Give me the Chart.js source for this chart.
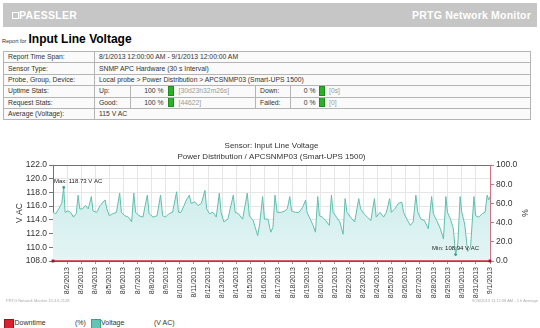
<!DOCTYPE html>
<html><head><meta charset="utf-8">
<script src="https://cdn.jsdelivr.net/npm/chart.js@4/dist/chart.umd.min.js"></script>
<style>
html,body{margin:0;padding:0;background:#fff;width:540px;height:328px;overflow:hidden;font-family:"Liberation Sans",Arial,sans-serif;color:#333;}
#hdr{position:absolute;left:3px;top:3px;width:534px;height:24px;background:#c6c6c6;}
#logoi{position:absolute;left:9px;top:9px;width:5px;height:5px;border:1px solid #fff;}
#logo{position:absolute;left:16px;top:0;line-height:25px;font-weight:bold;font-size:10.5px;color:#fff;letter-spacing:0.3px;}
#prtg{position:absolute;right:6px;top:0;line-height:25px;font-weight:bold;font-size:10.5px;color:#fff;letter-spacing:0.2px;}
#rtitle{position:absolute;left:2px;top:31px;line-height:14px;white-space:nowrap;}
#rtitle .rf{font-size:5.5px;color:#333;}
#rtitle b{font-size:12px;color:#000;margin-left:2px;}
#info{position:absolute;left:3px;top:51px;width:528px;border-collapse:collapse;table-layout:fixed;font-size:6.8px;color:#333;}
#info td{border:1px solid #b4b4b4;padding:0 0 0 4px;height:10.4px;line-height:10px;white-space:nowrap;overflow:hidden;background:#fafafa;}
.pc{display:inline-block;text-align:right;}
.gb{display:inline-block;width:4px;height:8px;background:#27b327;border:0.5px solid #1c8c1c;vertical-align:middle;margin-top:-1px;}
.br{color:#9a9a9a;}
#chartwrap{position:absolute;left:0;top:138px;width:540px;height:162px;}
.tiny{position:absolute;top:298px;font-size:4px;color:#aaa;white-space:nowrap;}
.lg{position:absolute;top:318px;font-size:7px;line-height:10px;white-space:nowrap;color:#333;}
.sq{position:absolute;top:318.5px;width:8px;height:8px;}
</style></head>
<body>
<div id="hdr"><div id="logoi"></div><div id="logo">PAESSLER</div><div id="prtg">PRTG Network Monitor</div></div>
<div id="rtitle"><span class="rf">Report for</span><b>Input Line Voltage</b></div>
<table id="info">
<colgroup><col style="width:91px"><col style="width:36px"><col style="width:125px"><col style="width:35px"><col></colgroup>
<tr><td>Report Time Span:</td><td colspan="4">8/1/2013 12:00:00 AM - 9/1/2013 12:00:00 AM</td></tr>
<tr><td>Sensor Type:</td><td colspan="4">SNMP APC Hardware (30 s Interval)</td></tr>
<tr><td>Probe, Group, Device:</td><td colspan="4">Local probe &gt; Power Distribution &gt; APCSNMP03 (Smart-UPS 1500)</td></tr>
<tr><td>Uptime Stats:</td><td>Up:</td><td><span class="pc" style="width:28.5px">100 %</span><span class="gb" style="margin-left:4px"></span><span class="br" style="margin-left:5px">[30d23h32m26s]</span></td><td>Down:</td><td><span class="pc" style="width:20.5px">0 %</span><span class="gb" style="margin-left:3px"></span><span class="br" style="margin-left:4.5px">[0s]</span></td></tr>
<tr><td>Request Stats:</td><td>Good:</td><td><span class="pc" style="width:28.5px">100 %</span><span class="gb" style="margin-left:4px"></span><span class="br" style="margin-left:5px">[44622]</span></td><td>Failed:</td><td><span class="pc" style="width:20.5px">0 %</span><span class="gb" style="margin-left:3px"></span><span class="br" style="margin-left:4.5px">[0]</span></td></tr>
<tr><td>Average (Voltage):</td><td colspan="4">115 V AC</td></tr>
</table>
<div id="chartwrap"><canvas id="c" width="540" height="162"></canvas></div>
<div class="tiny" style="left:6px">PRTG Network Monitor 13.3.6.2128</div>
<div class="tiny" style="right:2px">9/26/2013 11:12:38 AM - 1 h Average</div>
<div class="sq" style="left:4px;background:#d8202f;border:0.5px solid #a01020"></div>
<div class="lg" style="left:14.5px">Downtime</div>
<div class="lg" style="left:75px">(%)</div>
<div class="sq" style="left:90.5px;background:#63c6b4;border:0.5px solid #3f9f8f"></div>
<div class="lg" style="left:101px">Voltage</div>
<div class="lg" style="left:154px">(V AC)</div>
<script>
const dateLabels = ['8/2/2013','8/3/2013','8/4/2013','8/5/2013','8/6/2013','8/7/2013','8/8/2013','8/9/2013','8/10/2013','8/11/2013','8/12/2013','8/13/2013','8/14/2013','8/15/2013','8/16/2013','8/17/2013','8/18/2013','8/19/2013','8/20/2013','8/21/2013','8/22/2013','8/23/2013','8/24/2013','8/25/2013','8/26/2013','8/27/2013','8/28/2013','8/29/2013','8/30/2013','8/31/2013','9/1/2013'];
const leftTicks = [108,110,112,114,116,118,120,122];
const rightTicks = [0,20,40,60,80,100];
const chartTitle = ['Sensor: Input Line Voltage','Power Distribution / APCSNMP03 (Smart-UPS 1500)'];
// day offsets since 8/1/2013 00:00
const voltageDays = [
0,0.2,0.4,0.62,0.76,0.86,
1.05,1.25,1.45,1.65,1.78,1.9,
2.1,2.3,2.5,2.72,2.84,
3.1,3.35,3.55,3.7,3.82,
4,4.25,4.5,4.73,4.85,
5.1,5.35,5.58,5.73,5.86,
6.1,6.38,6.69,6.82,
7.1,7.38,7.63,7.78,
7.98,8.22,8.48,8.77,8.9,
9.08,9.3,9.46,9.67,9.8,
10.05,10.3,10.52,10.78,10.9,
11.1,11.35,11.58,11.8,11.92,
12.12,12.4,12.79,12.92,
13.15,13.45,13.78,13.93,
14.2,14.52,14.66,14.87,15,
15.25,15.45,15.6,15.75,15.9,
16.2,16.45,16.62,16.8,16.92,
17.2,17.45,17.7,17.92,18.02,
18.25,18.45,18.62,18.78,18.9,
19.1,19.35,19.6,19.75,19.87,
20.1,20.35,20.58,20.72,20.86,
21.1,21.4,21.69,21.82,
22.05,22.3,22.55,22.8,22.93,
23.2,23.45,23.65,23.88,24,
24.25,24.5,24.74,24.87,
25.1,25.35,25.55,25.74,25.88,
26.1,26.35,26.62,26.86,26.98,
27.22,27.48,27.7,27.87,27.98,
28.2,28.4,28.56,28.72,28.88,29,
29.2,29.42,29.62,29.86,29.98,
30.2,30.45,30.65,30.8,30.9,31];
const voltageValues = [
115.1,114.9,115.6,116.4,118.73,115.1,
115.3,115.1,114.4,114.9,117.6,115.6,
115.6,116.1,115.6,117.4,115.3,
115.1,116.1,116.6,116.9,115.6,
114.6,114.9,115.1,117.9,115.1,
114.6,114.4,113.7,117.9,115.1,
114.6,114.4,117.6,114.9,
114.4,114.6,117.6,114.6,
114.4,114.9,115.1,118.1,115.1,
115.1,116.1,116.9,117.6,116.4,
116.6,116.1,116.4,118.3,115.6,
114.9,115.1,114.4,117.9,115.1,
113.7,114.1,117.6,115.1,
114.9,114.1,117.9,114.6,
113.9,111.7,113.4,117.4,114.1,
114.1,112.2,112.9,117.6,115.1,
115.1,115.3,115.6,117.4,115.3,
115.1,115.1,115.8,116.9,115.1,
114.1,113.2,112.2,117.4,114.6,
114.4,113.9,113.2,117.6,115.1,
114.4,113.7,111.9,117.1,115.1,
114.4,113.7,117.1,115.6,
114.9,114.4,113.9,117.1,114.4,
115.1,114.4,115.1,117.1,115.1,
115.6,116.4,116.6,115.1,
114.1,113.2,113.7,117.6,115.1,
114.1,113.9,112.7,117.4,114.9,
113.9,112.7,111.2,117.4,115.1,
114.1,112.7,108.94,110.6,117.4,115.1,
113.4,109.4,110.0,117.4,114.6,
114.4,114.9,115.1,117.6,116.9,117.4];
const downtimeDays = [0,31];
const downtimeValues = [0,0];

const voltagePts = voltageDays.map((d,i)=>({x:d,y:voltageValues[i]}));
const downtimePts = downtimeDays.map((d,i)=>({x:d,y:downtimeValues[i]}));

Chart.defaults.font.family = '"Liberation Sans", Arial, sans-serif';
Chart.defaults.color = '#333';

const extras = {
  id:'extras',
  afterDatasetsDraw(chart){
    const {ctx, chartArea:a, scales:{x,y}} = chart;
    let iMax=0,iMin=0;
    voltageValues.forEach((v,i)=>{ if(v>voltageValues[iMax]) iMax=i; if(v<voltageValues[iMin]) iMin=i; });
    const marks=[['Max',iMax],['Min',iMin]];
    ctx.save();
    ctx.font='6px "Liberation Sans", Arial, sans-serif';
    ctx.textBaseline='middle';
    for(const [name,i] of marks){
      const px=x.getPixelForValue(voltageDays[i]);
      const py=y.getPixelForValue(voltageValues[i]);
      ctx.fillStyle='#3a9c8c';
      ctx.beginPath(); ctx.arc(px,py,1.4,0,Math.PI*2); ctx.fill();
      const t=name+': '+voltageValues[i].toFixed(2)+' V AC';
      const w=ctx.measureText(t).width;
      let lx=px-w/2;
      lx=Math.max(a.left+1,Math.min(a.right-1-w,lx));
      ctx.fillStyle='#222';
      ctx.textAlign='left';
      ctx.fillText(t,lx,py-6);
    }
    ctx.restore();
  },
  afterDraw(chart){
    const {ctx, chartArea:a} = chart;
    ctx.save();
    ctx.strokeStyle='#707070'; ctx.lineWidth=1;
    ctx.beginPath(); ctx.moveTo(a.left,a.top+0.5); ctx.lineTo(a.right,a.top+0.5); ctx.stroke();
    ctx.fillStyle='#333';
    ctx.font='8px "Liberation Sans", Arial, sans-serif';
    ctx.textAlign='center'; ctx.textBaseline='middle';
    const cx=(a.left+a.right)/2;
    ctx.fillText(chartTitle[0],cx,a.top-19);
    ctx.fillText(chartTitle[1],cx,a.top-8);
    ctx.restore();
  }
};

new Chart(document.getElementById('c'),{
  type:'line',
  data:{datasets:[
    {label:'Downtime',data:downtimePts,yAxisID:'y1',borderColor:'#d22a3c',borderWidth:1.5,pointRadius:2,pointStyle:'rect',pointBackgroundColor:'#9c1424',pointBorderWidth:0,fill:false,clip:4},
    {label:'Voltage',data:voltagePts,yAxisID:'y',borderColor:'#5fbfae',borderWidth:1,pointRadius:0,tension:0,fill:'start',
     backgroundColor:(c)=>{const ch=c.chart;const a=ch.chartArea;if(!a)return '#d4f0ef';const g=ch.ctx.createLinearGradient(0,a.top,0,a.bottom);g.addColorStop(0,'#c6eae8');g.addColorStop(1,'#e4f5f5');return g;}}
  ]},
  options:{
    responsive:false,animation:false,
    layout:{padding:{top:27,left:0,right:0,bottom:0}},
    plugins:{legend:{display:false},tooltip:{enabled:false},title:{display:false}},
    scales:{
      x:{type:'linear',min:0,max:31,z:1,
        afterBuildTicks:(s)=>{s.ticks=dateLabels.map((l,i)=>({value:i+1}));},
        afterFit:(s)=>{s.height=39;},
        ticks:{autoSkip:false,maxRotation:90,minRotation:90,padding:3,font:{size:7},color:'#333',callback:(v)=>dateLabels[v-1]||''},
        grid:{color:'#e6e6e6',tickLength:3,tickColor:'#999'},
        border:{display:true,color:'#c43246',width:1}},
      y:{position:'left',min:108,max:122,z:1,
        afterBuildTicks:(s)=>{s.ticks=leftTicks.map(v=>({value:v}));},
        afterFit:(s)=>{s.width=53;},
        ticks:{padding:2,font:{size:8.5},color:'#333',callback:(v)=>Number(v).toFixed(1)},
        grid:{color:(c)=>c.tick&&c.tick.value===108?'rgba(0,0,0,0)':'#e6e6e6',tickLength:4,tickColor:'#777'},
        border:{display:true,color:'#707070',width:1},
        title:{display:true,text:'V AC',font:{size:8.5},color:'#333',padding:{top:15,bottom:0}}},
      y1:{position:'right',min:0,max:100,z:1,
        afterBuildTicks:(s)=>{s.ticks=rightTicks.map(v=>({value:v}));},
        afterFit:(s)=>{s.width=50;},
        ticks:{padding:2,font:{size:8.5},color:'#333',callback:(v)=>Number(v).toFixed(1)},
        grid:{drawOnChartArea:false,tickLength:4,tickColor:'#d07080'},
        border:{display:true,color:'#d07080',width:1},
        title:{display:true,text:'%',font:{size:8.5},color:'#333',padding:{top:11,bottom:0}}}
    }
  },
  plugins:[extras]
});
</script>
</body></html>
